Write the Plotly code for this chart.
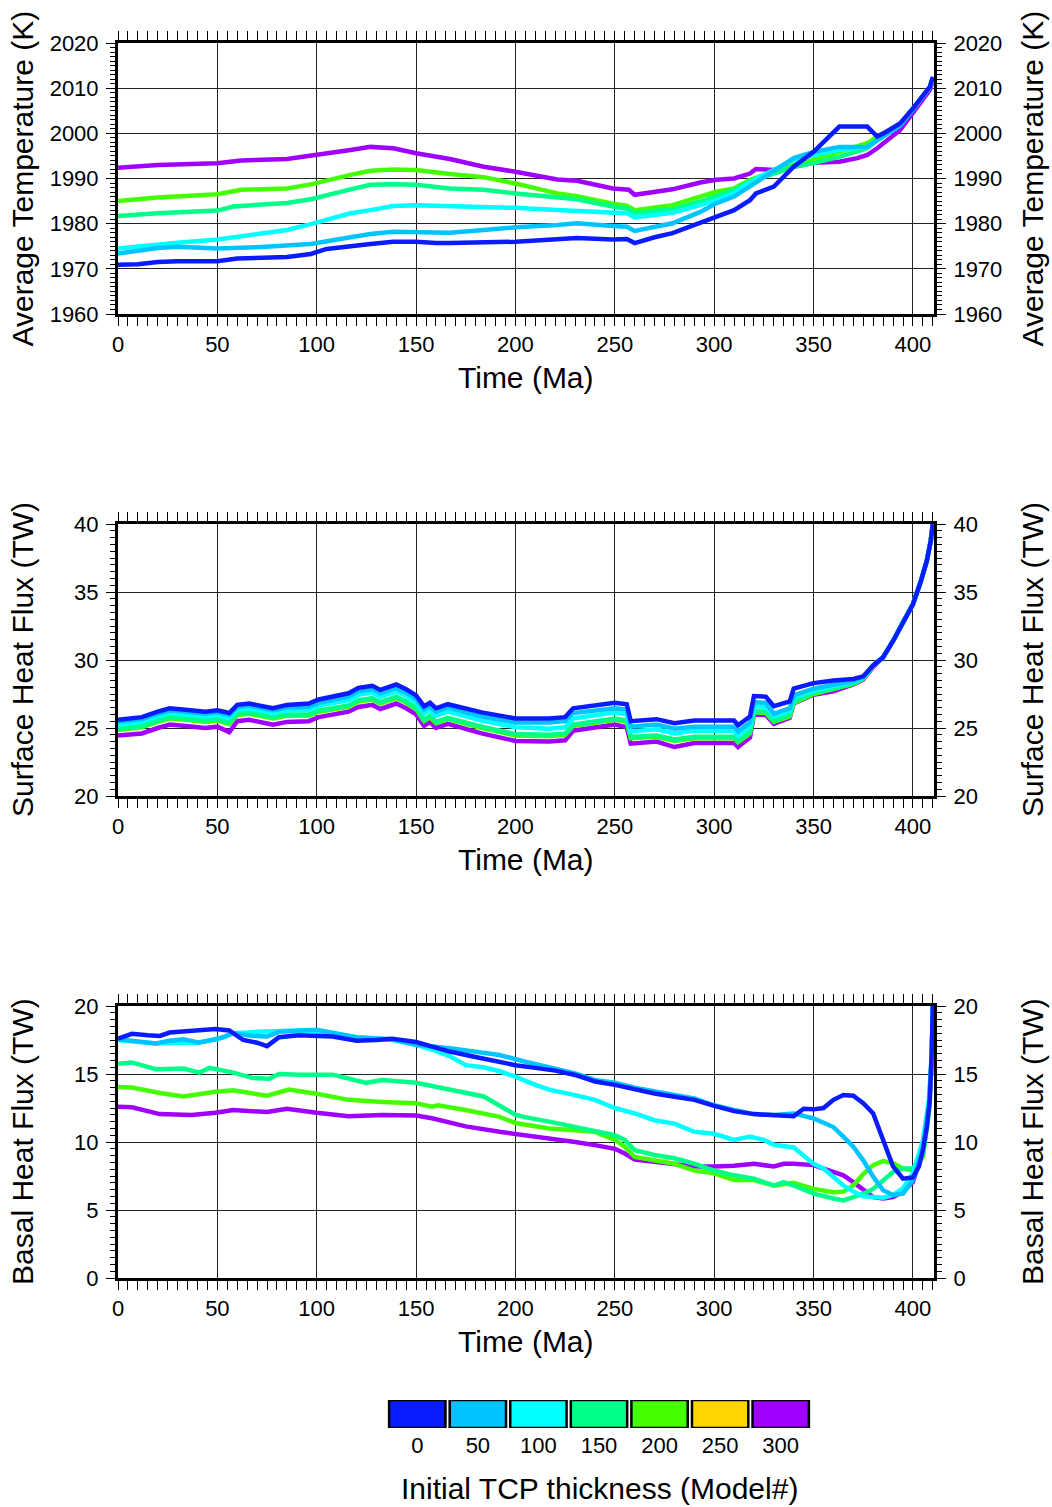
import plotly.graph_objects as go

# ---------------- data ----------------
models = ["0", "50", "100", "150", "200", "250", "300"]
model_colors = ["#0a1cff", "#00c4ff", "#00ffff", "#00ff88", "#44ff00", "#ffd400", "#a000ff"]

# Average temperature (K)
t_x_0 = [0, 10, 20, 30, 50, 60, 85, 97, 105, 117, 127, 138.5, 150, 160, 167, 200, 221, 231, 249, 256, 260, 270, 279, 293, 301, 310, 318, 321, 330, 340, 350, 356, 360, 363, 377, 382, 386, 393.5, 400, 405, 408.5, 410]
t_y_0 = [1970.9, 1971.0, 1971.5, 1971.7, 1971.7, 1972.3, 1972.6, 1973.3, 1974.4, 1975.1, 1975.5, 1976.0, 1976.0, 1975.7, 1975.7, 1976.0, 1976.4, 1976.8, 1976.5, 1976.6, 1975.7, 1977.0, 1977.9, 1980.1, 1981.5, 1983.0, 1985.2, 1986.7, 1988.2, 1992.6, 1995.9, 1998.5, 2000.0, 2001.5, 2001.5, 1999.3, 2000.2, 2002.2, 2005.5, 2008.3, 2010.3, 2012.5]

t_x_50 = [0, 10, 20, 30, 50, 70, 85, 97, 117, 127, 138.5, 150, 167, 184, 200, 221, 231, 249, 256, 260, 270, 279, 293, 301, 310, 318, 330, 340, 350, 363, 377, 382, 393.5, 400, 405, 408.5, 410]
t_y_50 = [1973.4, 1974.0, 1974.6, 1974.9, 1974.5, 1974.8, 1975.1, 1975.5, 1977.0, 1977.7, 1978.2, 1978.2, 1978.0, 1978.6, 1979.2, 1979.7, 1980.1, 1979.5, 1979.3, 1978.4, 1979.3, 1980.1, 1982.6, 1984.5, 1986.0, 1988.2, 1991.5, 1994.5, 1995.9, 1997.0, 1997.0, 1998.5, 2001.8, 2005.3, 2008.0, 2010.2, 2012.2]

t_x_100 = [0, 15, 30, 50, 70, 85, 97, 117, 127, 138.5, 150, 167, 184, 200, 221, 249, 256, 260, 279, 293, 301, 310, 318, 330, 340, 350, 363, 377, 382, 393.5, 400, 405, 408.5, 410]
t_y_100 = [1974.5, 1975.2, 1975.8, 1976.5, 1977.7, 1978.6, 1979.9, 1982.3, 1983.0, 1983.9, 1984.1, 1983.9, 1983.8, 1983.5, 1983.0, 1982.4, 1982.3, 1981.4, 1982.4, 1984.1, 1985.2, 1986.7, 1989.3, 1991.9, 1994.1, 1995.2, 1996.3, 1997.0, 1998.5, 2001.8, 2005.3, 2008.0, 2010.2, 2012.2]

t_x_150 = [0, 20, 50, 58, 85, 97, 117, 127, 138.5, 150, 167, 184, 200, 221, 231, 249, 256, 260, 279, 293, 301, 310, 318, 330, 340, 350, 363, 377, 382, 393.5, 400, 405, 408.5, 410]
t_y_150 = [1981.7, 1982.3, 1982.9, 1983.8, 1984.6, 1985.4, 1987.6, 1988.6, 1988.7, 1988.6, 1987.8, 1987.5, 1986.7, 1985.8, 1985.4, 1983.8, 1983.3, 1982.4, 1983.2, 1984.9, 1986.1, 1987.5, 1989.3, 1991.1, 1992.6, 1993.4, 1994.8, 1996.7, 1998.5, 2001.8, 2005.3, 2008.0, 2010.2, 2012.2]

t_x_200 = [0, 20, 50, 62, 85, 97, 117, 127, 138.5, 150, 167, 184, 200, 221, 231, 249, 256, 260, 279, 293, 301, 310, 318, 330, 340, 350, 363, 377, 382, 393.5, 400, 405, 408.5, 410]
t_y_200 = [1985.0, 1985.8, 1986.5, 1987.5, 1987.8, 1988.7, 1990.8, 1991.7, 1992.0, 1991.9, 1991.0, 1990.3, 1988.9, 1986.7, 1986.1, 1984.4, 1984.0, 1983.0, 1984.1, 1986.0, 1987.1, 1987.8, 1989.7, 1991.5, 1993.0, 1994.1, 1995.9, 1997.8, 1999.3, 2002.0, 2005.4, 2008.0, 2010.2, 2012.2]

t_x_300 = [0, 20, 50, 62, 85, 97, 117, 127, 138.5, 150, 167, 184, 200, 221, 231, 249, 257, 260, 268, 279, 293, 301, 310, 318, 321, 330, 340, 350, 363, 372, 377, 382, 393.5, 400, 405, 408.5, 410]
t_y_300 = [1992.4, 1993.0, 1993.4, 1994.0, 1994.3, 1995.0, 1996.3, 1997.0, 1996.7, 1995.6, 1994.3, 1992.6, 1991.5, 1989.8, 1989.5, 1987.8, 1987.5, 1986.4, 1986.9, 1987.6, 1989.1, 1989.7, 1990.0, 1991.1, 1992.1, 1991.9, 1992.6, 1993.5, 1993.7, 1994.5, 1995.2, 1996.7, 2000.7, 2004.4, 2007.3, 2009.6, 2011.6]

# Surface heat flux (TW) -- shared time samples
s_x = [0, 12, 20, 26, 34, 44, 50, 56, 60, 66, 78, 85, 96, 101, 116, 121, 128, 132, 140, 145, 150, 154, 157, 160, 166, 183, 200, 217, 225, 229, 250, 256, 258, 271, 280, 290, 310, 312, 318, 320, 326, 330, 338, 340, 350, 360, 370, 375, 380, 385, 390, 395, 400, 404, 407, 409, 410]
s_y_0 = [25.6, 25.8, 26.2, 26.45, 26.35, 26.2, 26.3, 26.1, 26.7, 26.8, 26.45, 26.7, 26.8, 27.1, 27.55, 27.95, 28.1, 27.8, 28.2, 27.85, 27.4, 26.6, 26.85, 26.45, 26.75, 26.15, 25.7, 25.7, 25.8, 26.45, 26.85, 26.75, 25.5, 25.65, 25.35, 25.55, 25.55, 25.2, 25.85, 27.35, 27.3, 26.6, 26.95, 27.9, 28.3, 28.5, 28.6, 28.8, 29.6, 30.2, 31.4, 32.8, 34.1, 35.8, 37.3, 38.8, 40.0]
s_y_50 = [25.45, 25.65, 26.05, 26.3, 26.2, 26.05, 26.15, 25.95, 26.55, 26.65, 26.3, 26.5, 26.55, 26.85, 27.3, 27.7, 27.85, 27.55, 27.95, 27.6, 27.15, 26.35, 26.6, 26.2, 26.5, 25.85, 25.4, 25.4, 25.5, 26.1, 26.45, 26.35, 25.1, 25.25, 24.95, 25.1, 25.1, 24.75, 25.4, 26.9, 26.85, 26.05, 26.45, 27.4, 27.9, 28.2, 28.45, 28.75, 29.6, 30.2, 31.4, 32.8, 34.1, 35.8, 37.3, 38.8, 40.0]
s_y_100 = [25.25, 25.45, 25.85, 26.1, 26.0, 25.85, 25.95, 25.75, 26.35, 26.45, 26.1, 26.3, 26.35, 26.65, 27.05, 27.45, 27.6, 27.3, 27.7, 27.35, 26.9, 26.05, 26.35, 25.9, 26.2, 25.55, 25.05, 24.95, 25.05, 25.7, 26.15, 26.0, 24.75, 24.9, 24.6, 24.8, 24.8, 24.45, 25.1, 26.6, 26.55, 25.85, 26.25, 27.25, 27.75, 28.05, 28.4, 28.7, 29.6, 30.2, 31.4, 32.8, 34.1, 35.8, 37.3, 38.8, 40.0]
s_y_150 = [24.95, 25.15, 25.55, 25.8, 25.7, 25.55, 25.65, 25.4, 26.05, 26.15, 25.8, 26.0, 26.0, 26.3, 26.65, 27.05, 27.2, 26.9, 27.3, 26.95, 26.5, 25.6, 25.9, 25.45, 25.75, 25.1, 24.55, 24.5, 24.6, 25.25, 25.7, 25.55, 24.35, 24.45, 24.15, 24.35, 24.35, 24.05, 24.7, 26.25, 26.2, 25.55, 25.95, 26.95, 27.6, 27.9, 28.3, 28.65, 29.6, 30.2, 31.4, 32.8, 34.1, 35.8, 37.3, 38.8, 40.0]
s_y_200 = [24.85, 25.05, 25.45, 25.7, 25.6, 25.45, 25.55, 25.3, 25.95, 26.05, 25.7, 25.9, 25.9, 26.2, 26.55, 26.95, 27.1, 26.8, 27.2, 26.85, 26.4, 25.5, 25.8, 25.35, 25.65, 25.0, 24.45, 24.4, 24.5, 25.15, 25.6, 25.45, 24.25, 24.35, 24.05, 24.25, 24.25, 23.95, 24.6, 26.15, 26.1, 25.45, 25.85, 26.85, 27.5, 27.85, 28.25, 28.6, 29.55, 30.2, 31.4, 32.8, 34.1, 35.8, 37.3, 38.8, 40.0]
s_y_300 = [24.45, 24.6, 25.0, 25.25, 25.15, 25.0, 25.1, 24.7, 25.5, 25.6, 25.25, 25.45, 25.5, 25.8, 26.2, 26.55, 26.7, 26.4, 26.8, 26.45, 26.0, 25.15, 25.45, 25.0, 25.3, 24.6, 24.05, 24.0, 24.1, 24.8, 25.25, 25.05, 23.85, 24.0, 23.6, 23.9, 23.9, 23.6, 24.3, 26.0, 25.95, 25.3, 25.75, 26.8, 27.45, 27.7, 28.2, 28.55, 29.5, 30.2, 31.4, 32.8, 34.1, 35.8, 37.3, 38.8, 40.0]

# Basal heat flux (TW)
b_x_0 = [0, 7, 15, 21, 26, 38, 49, 56, 63, 70, 75, 81, 91, 108, 120, 130, 138, 150, 158, 167, 178, 192, 200, 210, 220, 230, 240, 250, 260, 270, 280, 290, 300, 310, 320, 330, 335, 340, 345, 350, 355, 360, 365, 370, 375, 380, 385, 390, 395, 400, 403, 405, 407, 408.5, 409.5, 410]
b_y_0 = [17.6, 17.95, 17.85, 17.8, 18.05, 18.2, 18.3, 18.2, 17.5, 17.3, 17.05, 17.7, 17.85, 17.75, 17.45, 17.5, 17.6, 17.35, 17.0, 16.65, 16.3, 15.9, 15.65, 15.45, 15.25, 14.93, 14.45, 14.2, 13.87, 13.57, 13.33, 13.1, 12.65, 12.27, 12.05, 12.0, 11.9, 11.9, 12.45, 12.4, 12.5, 13.1, 13.45, 13.4, 12.85, 12.1, 10.15, 8.2, 7.3, 7.4, 8.2, 9.4, 11.1, 13.1, 16.8, 20.0]

b_x_50 = [0, 10, 19, 26, 33, 41, 48, 53, 58, 68, 75, 81, 100, 108, 120, 138, 150, 167, 180, 192, 205, 217, 230, 240, 250, 260, 270, 280, 290, 300, 310, 320, 330, 340, 350, 360, 365, 370, 375, 380, 385, 390, 395, 400, 405, 408, 409.5, 410]
b_y_50 = [17.55, 17.4, 17.25, 17.45, 17.55, 17.3, 17.55, 17.7, 18.0, 17.8, 17.75, 18.1, 18.25, 18.0, 17.7, 17.55, 17.15, 16.9, 16.6, 16.4, 15.9, 15.5, 15.05, 14.56, 14.36, 14.0, 13.7, 13.45, 13.2, 12.7, 12.35, 12.05, 11.98, 12.1, 11.73, 11.1, 10.4, 9.65, 8.65, 7.45, 6.45, 6.1, 6.2, 7.2, 9.6, 12.6, 16.0, 20.0]

b_x_100 = [0, 10, 19, 30, 39, 50, 58, 70, 91, 100, 108, 120, 138, 150, 160, 167, 175, 184, 192, 200, 210, 217, 230, 240, 250, 260, 270, 280, 290, 300, 310, 318, 325, 330, 340, 350, 355, 360, 365, 370, 375, 380, 385, 390, 395, 400, 405, 408, 409.5, 410]
b_y_100 = [17.5, 17.35, 17.25, 17.3, 17.3, 17.55, 18.0, 18.1, 18.2, 18.15, 18.0, 17.7, 17.5, 17.15, 16.7, 16.3, 15.65, 15.5, 15.2, 14.8, 14.2, 13.85, 13.45, 13.1, 12.5, 12.1, 11.6, 11.35, 10.75, 10.6, 10.15, 10.4, 10.15, 9.8, 9.6, 8.4, 8.05, 7.45, 6.8, 6.35, 6.0, 5.95, 5.9, 6.1, 6.6, 7.7, 10.1, 13.1, 16.5, 20.0]

b_x_150 = [0, 7, 19, 33, 41, 46, 58, 68, 76, 81, 91, 108, 125, 133, 150, 167, 184, 200, 204, 217, 230, 240, 250, 255, 260, 270, 280, 290, 300, 310, 320, 330, 335, 340, 350, 360, 365, 370, 375, 380, 385, 390, 395, 400, 405, 408, 409.5, 410]
b_y_150 = [15.75, 15.85, 15.35, 15.4, 15.1, 15.45, 15.1, 14.7, 14.65, 15.0, 14.95, 14.95, 14.35, 14.55, 14.35, 13.85, 13.35, 12.0, 11.85, 11.5, 11.1, 10.85, 10.5, 10.15, 9.4, 9.05, 8.8, 8.4, 7.9, 7.55, 7.3, 6.8, 7.05, 6.8, 6.2, 5.85, 5.7, 5.95, 6.2, 6.55, 7.2, 7.8, 8.05, 8.05, 9.1, 12.3, 16.3, 20.0]

b_x_200 = [0, 7, 21, 33, 49, 58, 75, 86, 100, 116, 133, 150, 158, 161, 175, 192, 200, 217, 230, 240, 250, 255, 260, 270, 280, 290, 300, 310, 320, 330, 340, 350, 360, 365, 370, 375, 380, 385, 390, 395, 400, 405, 408, 409.5, 410]
b_y_200 = [14.05, 14.0, 13.6, 13.35, 13.7, 13.8, 13.4, 13.85, 13.55, 13.1, 12.95, 12.85, 12.6, 12.7, 12.35, 11.85, 11.4, 11.0, 10.87, 10.75, 10.15, 9.65, 8.9, 8.65, 8.4, 7.9, 7.7, 7.2, 7.2, 6.8, 7.0, 6.55, 6.3, 6.35, 6.8, 7.65, 8.3, 8.6, 8.45, 8.05, 7.9, 8.9, 12.1, 16.2, 20.0]

b_x_300 = [0, 7, 21, 37, 49, 58, 75, 85, 100, 116, 133, 150, 158, 175, 192, 200, 217, 230, 240, 250, 255, 260, 270, 280, 290, 300, 310, 320, 330, 335, 340, 350, 355, 360, 365, 370, 375, 380, 385, 390, 395, 400, 405, 408, 409.5, 410]
b_y_300 = [12.6, 12.55, 12.05, 11.98, 12.15, 12.35, 12.2, 12.45, 12.15, 11.9, 11.98, 11.95, 11.75, 11.15, 10.75, 10.6, 10.3, 10.0, 9.77, 9.5, 9.15, 8.7, 8.55, 8.35, 8.2, 8.2, 8.25, 8.4, 8.2, 8.4, 8.4, 8.3, 8.05, 7.8, 7.55, 7.05, 6.45, 5.95, 5.85, 5.95, 6.35, 7.05, 9.4, 12.35, 16.3, 20.0]

x_ticks = [0, 50, 100, 150, 200, 250, 300, 350, 400]
temp_ticks = [1960, 1970, 1980, 1990, 2000, 2010, 2020]
flux_s_ticks = [20, 25, 30, 35, 40]
flux_b_ticks = [0, 5, 10, 15, 20]

# ---------------- figure ----------------
W, H = 1052, 1507
FONT = "Liberation Sans, Arial, Helvetica, sans-serif"
px = lambda v: v / W
py = lambda v: 1 - v / H

fig = go.Figure()

# draw order: 300 first, blue (0) last on top ; model 250 has no curve
order = [6, 4, 3, 2, 1, 0]
temp = {0: (t_x_0, t_y_0), 1: (t_x_50, t_y_50), 2: (t_x_100, t_y_100),
        3: (t_x_150, t_y_150), 4: (t_x_200, t_y_200), 6: (t_x_300, t_y_300)}
surf = {0: s_y_0, 1: s_y_50, 2: s_y_100, 3: s_y_150, 4: s_y_200, 6: s_y_300}
basal = {0: (b_x_0, b_y_0), 1: (b_x_50, b_y_50), 2: (b_x_100, b_y_100),
         3: (b_x_150, b_y_150), 4: (b_x_200, b_y_200), 6: (b_x_300, b_y_300)}

LW = 4.5
# the last (blue) curve of each panel is bound to the right-hand axis (same range),
# so that the mirrored right axis with its labels gets drawn
for i in order:
    fig.add_trace(go.Scatter(x=temp[i][0], y=temp[i][1], mode="lines",
                             line=dict(color=model_colors[i], width=LW),
                             xaxis="x", yaxis="y2" if i == 0 else "y", showlegend=False))
for i in order:
    fig.add_trace(go.Scatter(x=s_x, y=surf[i], mode="lines",
                             line=dict(color=model_colors[i], width=LW),
                             xaxis="x2", yaxis="y4" if i == 0 else "y3", showlegend=False))
for i in order:
    fig.add_trace(go.Scatter(x=basal[i][0], y=basal[i][1], mode="lines",
                             line=dict(color=model_colors[i], width=LW),
                             xaxis="x3", yaxis="y6" if i == 0 else "y5", showlegend=False))

# colour key as a bar chart
fig.add_trace(go.Bar(x=models, y=[1] * len(models),
                     marker=dict(color=model_colors, line=dict(color="black", width=2.5)),
                     xaxis="x4", yaxis="y7", showlegend=False, hoverinfo="skip"))

xdom = [px(118), px(934)]
doms = [(43, 314), (524, 796), (1006, 1278)]

def xax(anchor):
    return dict(domain=xdom, anchor=anchor, range=[0, 410.6], automargin=False,
                tickmode="array", tickvals=x_ticks, ticks="outside", ticklen=9,
                tickwidth=1, tickcolor="black", mirror="allticks",
                showline=True, linecolor="black", linewidth=3,
                showgrid=True, gridcolor="#222", gridwidth=1, zeroline=False,
                minor=dict(dtick=5, ticks="outside", ticklen=5, tickcolor="black", showgrid=False),
                tickfont=dict(family=FONT, size=22, color="black"))

def yax(dom, rng, ticks, mdt, anchor):
    return dict(domain=[py(dom[1]), py(dom[0])], anchor=anchor, range=rng, automargin=False,
                tickmode="array", tickvals=ticks, ticks="outside", ticklen=9,
                tickwidth=1, tickcolor="black", mirror=True, ticklabelstandoff=3,
                showline=True, linecolor="black", linewidth=3,
                showgrid=True, gridcolor="#222", gridwidth=1, zeroline=False,
                minor=dict(dtick=mdt, ticks="outside", ticklen=5, tickcolor="black", showgrid=False),
                tickfont=dict(family=FONT, size=22, color="black"))

def yax_r(rng, ticks, mdt, overl, anchor):
    return dict(overlaying=overl, side="right", anchor=anchor, range=rng, automargin=False,
                tickmode="array", tickvals=ticks, ticks="outside", ticklen=9,
                tickwidth=1, tickcolor="black", showline=True, linecolor="black",
                linewidth=3, showgrid=False, zeroline=False, ticklabelstandoff=3,
                minor=dict(dtick=mdt, ticks="outside", ticklen=5, tickcolor="black", showgrid=False),
                tickfont=dict(family=FONT, size=22, color="black"))

fig.update_layout(
    width=W, height=H, margin=dict(l=0, r=0, t=0, b=0, autoexpand=False),
    paper_bgcolor="white", plot_bgcolor="white",
    font=dict(family=FONT, color="black"),
    xaxis=xax("y"), yaxis=yax(doms[0], [1960, 2020], temp_ticks, 1, "x"),
    yaxis2=yax_r([1960, 2020], temp_ticks, 1, "y", "x"),
    xaxis2=xax("y3"), yaxis3=yax(doms[1], [20, 40], flux_s_ticks, 0.5, "x2"),
    yaxis4=yax_r([20, 40], flux_s_ticks, 0.5, "y3", "x2"),
    xaxis3=xax("y5"), yaxis5=yax(doms[2], [0, 20], flux_b_ticks, 0.5, "x3"),
    yaxis6=yax_r([0, 20], flux_b_ticks, 0.5, "y5", "x3"),
    xaxis4=dict(domain=[px(387), px(811)], anchor="y7", type="category", automargin=False,
                showline=False, showgrid=False, ticks="", ticklabelstandoff=2,
                tickfont=dict(family=FONT, size=22, color="black")),
    yaxis7=dict(domain=[py(1428), py(1400)], anchor="x4", range=[0, 1],
                visible=False, automargin=False),
    bargap=0.07,
)

titles = []
for (top, bot), name in zip(doms, ["Average Temperature (K)", "Surface Heat Flux (TW)", "Basal Heat Flux (TW)"]):
    cy = py((top + bot) / 2)
    titles.append(dict(text=name, x=px(22), y=cy, textangle=-90))
    titles.append(dict(text=name, x=px(1032), y=cy, textangle=-90))
    titles.append(dict(text="Time (Ma)", x=px(526), y=py(bot + 63), textangle=0))
titles.append(dict(text="Initial TCP thickness (Model#)", x=px(599), y=py(1488), textangle=0))

fig.update_layout(annotations=[
    dict(text=t["text"], x=t["x"], y=t["y"], xref="paper", yref="paper",
         xanchor="center", yanchor="middle", textangle=t["textangle"], showarrow=False,
         font=dict(family=FONT, size=30, color="black"))
    for t in titles
])

fig.write_html("out.html")
